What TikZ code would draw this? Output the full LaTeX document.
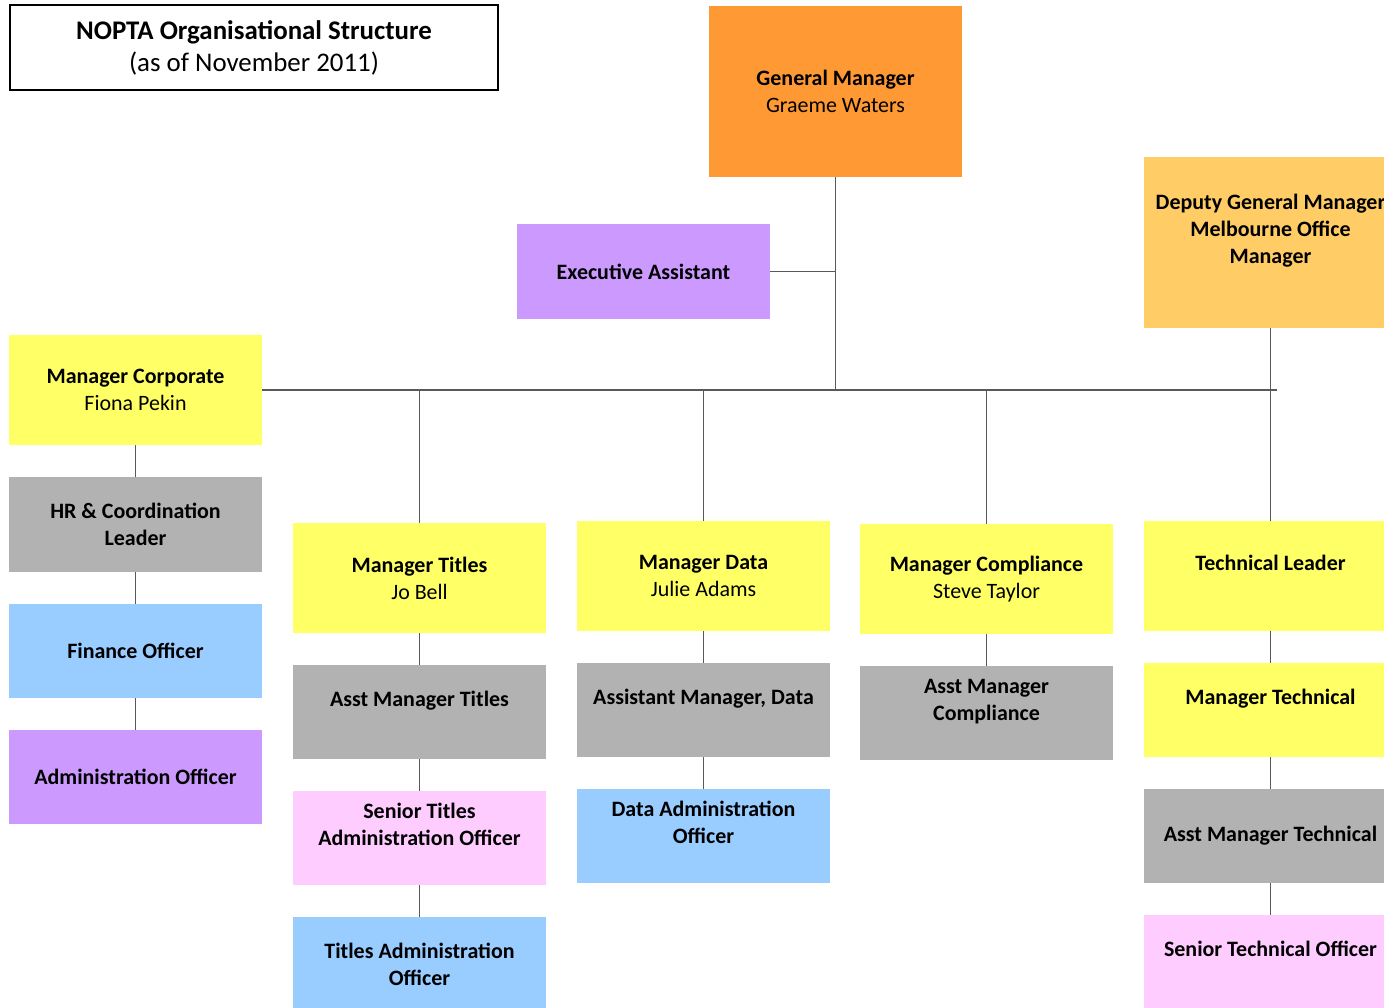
\documentclass[tikz,border=0pt]{standalone}
\usepackage{fontspec}
\setmainfont{Carlito}

\definecolor{gmorange}{HTML}{FF9933}
\definecolor{dgmgold}{HTML}{FFCC66}
\definecolor{mgryellow}{HTML}{FFFF66}
\definecolor{asstgray}{HTML}{B2B2B2}
\definecolor{offblue}{HTML}{99CCFF}
\definecolor{adminpurple}{HTML}{CC99FF}
\definecolor{seniorpink}{HTML}{FFCCFF}

\tikzset{
  post/.style={inner sep=0pt, align=center, minimum width=5.06cm,
    minimum height=1.88cm, font=\fontsize{12.5}{15.3}\selectfont},
  tall/.style={minimum height=2.2cm},
  conn/.style={draw=black!65, line width=0.7pt}
}

\begin{document}
\begin{tikzpicture}[x=0.02cm, y=-0.02cm]
  \useasboundingbox (0,0) rectangle (1384,1008);

  % title
  \node[draw, line width=0.8pt, minimum width=9.76cm, minimum height=1.7cm,
    align=center, font=\fontsize{15.3}{18.2}\selectfont] (title) at (254,47.5)
    {\textbf{NOPTA Organisational Structure}\\(as of November 2011)};

  % top level
  \node[post, fill=gmorange, minimum height=3.42cm] (gm) at (835.5,91.5)
    {\textbf{General Manager}\\Graeme Waters};
  \node[post, fill=adminpurple, minimum height=1.9cm] (ea) at (643.5,271.5)
    {\textbf{Executive Assistant}};
  \node[post, fill=dgmgold, minimum height=3.42cm] (dgm) at (1270.5,242.5)
    {\textbf{Deputy General Manager}\\\textbf{Melbourne Office}\\\textbf{Manager}\\~};

  % corporate
  \node[post, tall, fill=mgryellow] (mc) at (135.5,390)
    {\textbf{Manager Corporate}\\Fiona Pekin};
  \node[post, fill=asstgray, minimum height=1.9cm] (hr) at (135.5,524.5)
    {\textbf{HR \& Coordination}\\\textbf{Leader}};
  \node[post, fill=offblue] (fo) at (135.5,651) {\textbf{Finance Officer}};
  \node[post, fill=adminpurple] (ao) at (135.5,777) {\textbf{Administration Officer}};

  % titles
  \node[post, tall, fill=mgryellow] (mt) at (419.5,578)
    {\textbf{Manager Titles}\\Jo Bell};
  \node[post, fill=asstgray] (amt) at (419.5,712) {\textbf{Asst Manager Titles}\\~};
  \node[post, fill=seniorpink] (sta) at (419.5,838)
    {\textbf{Senior Titles}\\\textbf{Administration Officer}\\~};
  \node[post, fill=offblue] (ta) at (419.5,964)
    {\textbf{Titles Administration}\\\textbf{Officer}};

  % data
  \node[post, tall, fill=mgryellow] (md) at (703.5,576)
    {\textbf{Manager Data}\\Julie Adams};
  \node[post, fill=asstgray] (amd) at (703.5,710) {\textbf{Assistant Manager, Data}\\~};
  \node[post, fill=offblue] (dao) at (703.5,836)
    {\textbf{Data Administration}\\\textbf{Officer}\\~};

  % compliance
  \node[post, tall, fill=mgryellow] (mcp) at (986.5,579)
    {\textbf{Manager Compliance}\\Steve Taylor};
  \node[post, fill=asstgray] (amc) at (986.5,713)
    {\textbf{Asst Manager}\\\textbf{Compliance}\\~};

  % technical
  \node[post, tall, fill=mgryellow] (tl) at (1270.5,576) {\textbf{Technical Leader}\\~};
  \node[post, fill=mgryellow] (mtech) at (1270.5,710) {\textbf{Manager Technical}\\~};
  \node[post, fill=asstgray] (amtech) at (1270.5,836) {\textbf{Asst Manager Technical}};
  \node[post, fill=seniorpink] (sto) at (1270.5,962) {\textbf{Senior Technical Officer}\\~};

  % connectors
  \coordinate (hub) at (gm.south |- mc.east);
  \draw[conn] (gm.south) -- (hub);
  \draw[conn] (ea.east) -- (ea.east -| gm.south);
  \draw[conn] (mc.east) -- ([xshift=0.12cm]mc.east -| dgm.south);
  \draw[conn] (dgm.south) -- (tl.north);
  \foreach \b in {mt,md,mcp}
    \draw[conn] (\b.north) -- (\b.north |- mc.east);
  \foreach \a/\b in {mc/hr,hr/fo,fo/ao,mt/amt,amt/sta,sta/ta,md/amd,amd/dao,
                     mcp/amc,tl/mtech,mtech/amtech,amtech/sto}
    \draw[conn] (\a.south) -- (\b.north);
\end{tikzpicture}
\end{document}
